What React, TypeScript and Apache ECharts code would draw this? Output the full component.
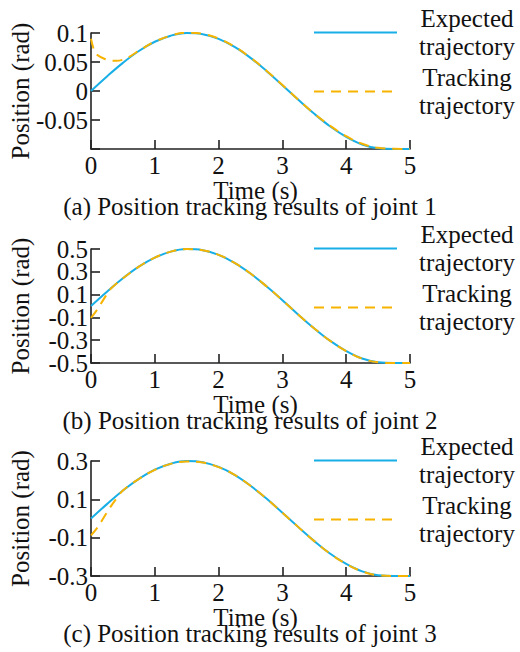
import React, { useEffect, useRef } from "react";
import * as echarts from "echarts";

// ---------- data ----------
const seriesNames = ["Expected trajectory", "Tracking trajectory"];
const titles = [
  "(a) Position tracking results of joint 1",
  "(b) Position tracking results of joint 2",
  "(c) Position tracking results of joint 3",
];
const xName = "Time (s)";
const yName = "Position (rad)";
const xTicks = [0, 1, 2, 3, 4, 5];

const expectedTime = [0, 0.25, 0.5, 0.75, 1, 1.25, 1.5, 1.75, 2, 2.25, 2.5, 2.75, 3, 3.25, 3.5, 3.75, 4, 4.25, 4.5, 4.75, 5];

// joint 1
const expectedA = [0, 0.0251, 0.0485, 0.0689, 0.0849, 0.0954, 0.0999, 0.098, 0.0898, 0.0759, 0.0571, 0.0346, 0.0101, -0.0151, -0.0394, -0.0612, -0.0791, -0.0922, -0.0988, -0.1, -0.1];
const trackingTimeA = [0, 0.05, 0.1, 0.2, 0.3, 0.4, 0.5, 0.6, 0.7, 0.8, 1, 1.25, 1.5, 1.75, 2, 2.25, 2.5, 2.75, 3, 3.25, 3.5, 3.75, 4, 4.25, 4.5, 4.75, 5];
const trackingA = [0.09, 0.07, 0.062, 0.056, 0.053, 0.052, 0.054, 0.059, 0.066, 0.073, 0.085, 0.0955, 0.1005, 0.0985, 0.0905, 0.0765, 0.0575, 0.035, 0.0103, -0.015, -0.039, -0.06, -0.078, -0.091, -0.098, -0.0995, -0.1];
const yTicksA = [-0.1, -0.05, 0, 0.05, 0.1];
const yLabelsA = [-0.05, 0, 0.05, 0.1];

// joint 2
const expectedB = [0, 0.125, 0.243, 0.345, 0.424, 0.477, 0.499, 0.49, 0.449, 0.379, 0.285, 0.173, 0.051, -0.076, -0.197, -0.306, -0.395, -0.461, -0.494, -0.5, -0.5];
const trackingTimeB = [0, 0.1, 0.2, 0.3, 0.4, 0.5, 0.75, 1, 1.25, 1.5, 1.75, 2, 2.25, 2.5, 2.75, 3, 3.25, 3.5, 3.75, 4, 4.25, 4.5, 4.75, 5];
const trackingB = [-0.105, -0.03, 0.06, 0.145, 0.197, 0.243, 0.345, 0.424, 0.477, 0.499, 0.49, 0.449, 0.379, 0.285, 0.173, 0.051, -0.076, -0.197, -0.306, -0.395, -0.461, -0.494, -0.5, -0.5];
const yTicksB = [-0.5, -0.3, -0.1, 0.1, 0.3, 0.5];
const yLabelsB = [-0.5, -0.3, -0.1, 0.1, 0.3, 0.5];

// joint 3
const expectedC = [0, 0.075, 0.146, 0.207, 0.255, 0.286, 0.3, 0.294, 0.269, 0.228, 0.171, 0.104, 0.03, -0.045, -0.118, -0.184, -0.237, -0.276, -0.296, -0.3, -0.3];
const trackingTimeC = [0, 0.1, 0.2, 0.3, 0.4, 0.5, 0.75, 1, 1.25, 1.5, 1.75, 2, 2.25, 2.5, 2.75, 3, 3.25, 3.5, 3.75, 4, 4.25, 4.5, 4.75, 5];
const trackingC = [-0.088, -0.048, 0.005, 0.058, 0.105, 0.146, 0.206, 0.254, 0.285, 0.297, 0.292, 0.268, 0.228, 0.171, 0.104, 0.03, -0.045, -0.118, -0.184, -0.237, -0.276, -0.296, -0.3, -0.3];
const yTicksC = [-0.3, -0.1, 0.1, 0.3];
const yLabelsC = [-0.3, -0.1, 0.1, 0.3];

// ---------- styling / layout ----------
const FONT = "Liberation Serif";
const TEXT = "#111";
const AXIS = "#222";
const BLUE = "#18aee6";
const ORANGE = "#f6b400";
const FS = 25;

const panels = [
  { top: 33, height: 116, min: -0.1, max: 0.1, ticks: yTicksA, labels: yLabelsA, exp: expectedA, trT: trackingTimeA, tr: trackingA },
  { top: 249, height: 114, min: -0.5, max: 0.5, ticks: yTicksB, labels: yLabelsB, exp: expectedB, trT: trackingTimeB, tr: trackingB },
  { top: 461, height: 115, min: -0.3, max: 0.3, ticks: yTicksC, labels: yLabelsC, exp: expectedC, trT: trackingTimeC, tr: trackingC },
];

const zip = (xs: number[], ys: number[]) => xs.map((x, i) => [x, ys[i]]);

function buildOption() {
  const grid: any[] = [];
  const xAxis: any[] = [];
  const yAxis: any[] = [];
  const labelAxes: any[] = [];
  const series: any[] = [];
  const legend: any[] = [];
  const title: any[] = [];

  const labelStyle = { fontFamily: FONT, fontSize: FS, lineHeight: 18, color: TEXT };

  panels.forEach((p, i) => {
    const bottom = p.top + p.height;
    grid.push({ left: 91, width: 319, top: p.top, height: p.height });
    xAxis.push({
      gridIndex: i,
      type: "value",
      min: 0,
      max: 5,
      interval: 1,
      name: xName,
      nameLocation: "middle",
      nameGap: 19,
      nameTextStyle: { fontFamily: FONT, fontSize: FS, color: TEXT, lineHeight: 18, padding: [0, 0, 0, 10] },
      axisLine: { show: true, onZero: false, lineStyle: { color: AXIS, width: 1.6 } },
      axisTick: { show: true, inside: true, length: 9, lineStyle: { color: AXIS, width: 1.6 }, customValues: xTicks },
      axisLabel: { ...labelStyle, margin: 7, customValues: xTicks, showMinLabel: true, showMaxLabel: true, hideOverlap: false },
      splitLine: { show: false },
    });
    // main y axis: line, ticks and name
    yAxis.push({
      gridIndex: i,
      type: "value",
      position: "left",
      min: p.min,
      max: p.max,
      name: yName,
      nameLocation: "middle",
      nameGap: 58,
      nameTextStyle: { fontFamily: FONT, fontSize: FS, color: TEXT },
      axisLine: { show: true, onZero: false, lineStyle: { color: AXIS, width: 1.6 } },
      axisTick: { show: true, inside: true, length: 9, lineStyle: { color: AXIS, width: 1.6 }, customValues: p.ticks },
      axisLabel: { show: false },
      splitLine: { show: false },
    });
    // one label-only axis per tick label, so that tightly packed labels are never auto-hidden
    p.labels.forEach((v) => {
      labelAxes.push({
        gridIndex: i,
        type: "value",
        position: "left",
        min: p.min,
        max: p.max,
        axisLine: { show: false },
        axisTick: { show: false },
        axisLabel: { ...labelStyle, margin: 3, customValues: [v], showMinLabel: true, showMaxLabel: true, hideOverlap: false },
        splitLine: { show: false },
      });
    });
    series.push({
      name: seriesNames[0],
      type: "line",
      xAxisIndex: i,
      yAxisIndex: i,
      data: zip(expectedTime, p.exp),
      smooth: 0.4,
      symbol: "none",
      lineStyle: { color: BLUE, width: 2 },
      itemStyle: { color: BLUE },
      z: 2,
    });
    series.push({
      name: seriesNames[1],
      type: "line",
      xAxisIndex: i,
      yAxisIndex: i,
      data: zip(p.trT, p.tr),
      smooth: 0.4,
      symbol: "none",
      lineStyle: { color: ORANGE, width: 2, type: [10, 7] },
      itemStyle: { color: ORANGE },
      z: 3,
    });
    legend.push({
      data: seriesNames,
      orient: "vertical",
      left: 313,
      top: p.top - 27,
      padding: 0,
      itemGap: 6,
      itemWidth: 83,
      itemHeight: 2,
      selectedMode: false,
      itemStyle: { opacity: 0 },
      formatter: (name: string) => {
        const parts = name.split(" ");
        return `{a|${parts[0]}}\n{a|${parts[1]}}`;
      },
      textStyle: {
        fontFamily: FONT,
        fontSize: FS,
        color: TEXT,
        rich: { a: { fontFamily: FONT, fontSize: FS, color: TEXT, lineHeight: 28, width: 130, align: "center" } },
      },
    });
    title.push({
      text: titles[i],
      left: 250,
      textAlign: "center",
      top: bottom + 47,
      padding: 0,
      textStyle: { fontFamily: FONT, fontSize: FS, lineHeight: 20, fontWeight: "normal", color: TEXT },
    });
  });

  return { animation: false, backgroundColor: "#fff", grid, xAxis, yAxis: [...yAxis, ...labelAxes], series, legend, title };
}

export default function App() {
  const ref = useRef<HTMLDivElement>(null);
  useEffect(() => {
    if (!ref.current) return;
    const chart = echarts.init(ref.current, undefined, { renderer: "svg" });
    chart.setOption(buildOption() as any);
    return () => chart.dispose();
  }, []);
  return <div ref={ref} style={{ position: "fixed", left: 0, top: 0, width: 520, height: 652 }} />;
}
